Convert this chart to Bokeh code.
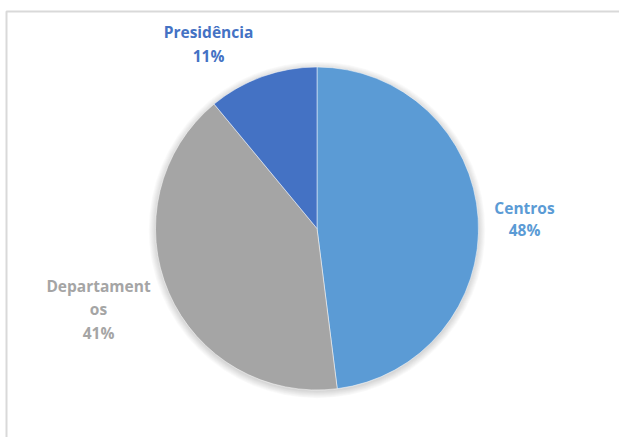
import math
from bokeh.plotting import figure
from bokeh.models import Range1d, ColumnDataSource
from bokeh.core.properties import value
from bokeh.embed import file_html
from bokeh.resources import INLINE

# ---- data ----
categories = ["Centros", "Departamentos", "Presidência"]
shares = [48, 41, 11]
colors = ["#5B9BD5", "#A5A5A5", "#4472C4"]

W, H = 619, 437
p = figure(width=W, height=H, x_range=Range1d(0, W), y_range=Range1d(0, H),
           output_backend="svg", toolbar_location=None, min_border=0)
p.axis.visible = False
p.grid.visible = False
p.outline_line_color = None
p.background_fill_color = "white"
p.border_fill_color = "white"

def Y(py):
    return H - py

# chart-area border (left/top visible)
p.quad(left=[6], right=[W + 20], top=[Y(11)], bottom=[-20],
       fill_color=None, line_color="#D9D9D9", line_width=2)

cx, cy, r = 316.5, Y(228), 161.5

# soft shadow
for i in range(8):
    p.circle(x=[cx], y=[cy - 1.5], radius=r + 0.5 + i * 0.9, fill_color="black",
             fill_alpha=0.018, line_color=None)

# wedges
total = sum(shares)
starts, ends = [], []
acc = 0.0
for v in shares:
    a0 = math.pi / 2 - 2 * math.pi * acc / total
    acc += v
    a1 = math.pi / 2 - 2 * math.pi * acc / total
    starts.append(a0)
    ends.append(a1)

src = ColumnDataSource(dict(start=starts, end=ends, color=colors))
p.wedge(x=cx, y=cy, radius=r, start_angle="start", end_angle="end",
        direction="clock", fill_color="color", line_color="white", line_width=0.5,
        source=src)

# labels
label_lines = [
    [categories[0], f"{shares[0]}%"],
    [categories[1][:11], categories[1][11:], f"{shares[1]}%"],
    [categories[2], f"{shares[2]}%"],
]
label_pos = [(524, [207, 229]), (98, [285, 308, 332]), (208, [31, 55])]

for lines, (lx, bases), col in zip(label_lines, label_pos, colors):
    p.text(x=[lx] * len(lines), y=[Y(b) for b in bases], text=lines,
           text_align="center", text_baseline="alphabetic",
           text_font=value("Open Sans"), text_font_style="bold",
           text_font_size="15.5px", text_color=col)

open("out.html", "w").write(file_html(p, INLINE))
